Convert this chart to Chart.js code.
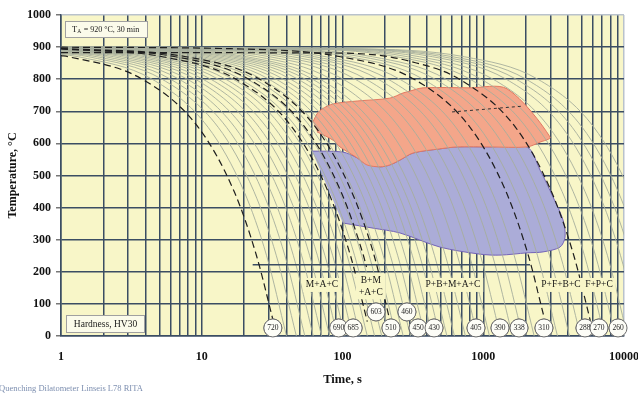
<!DOCTYPE html>
<html><head><meta charset="utf-8">
<script src="https://cdn.jsdelivr.net/npm/chart.js@4.4.1/dist/chart.umd.min.js"></script>
<style>html,body{margin:0;padding:0;background:#fff;overflow:hidden}canvas{display:block}</style>
</head><body>
<canvas id="c" width="638" height="394"></canvas>
<script>
// ---- data ----
const X_TICKS = [1,2,3,4,5,6,7,8,9,10,20,30,40,50,60,70,80,90,100,200,300,400,500,600,700,800,900,1000,2000,3000,4000,5000,6000,7000,8000,9000,10000];
const X_LABELED = [1,10,100,1000,10000];

// temperature levels at which the thin cooling curves were read
const LEVELS = [895, 870, 800, 650, 450, 250, 0];
// temperature of each thin curve at t = 1 s
const GRAY_T1 = [877.5,880.9,883.3,885.5,887.3,888.9,890.2,891.3,892.4,893.2,894,894.7,895.3,895.8,896.3,896.7,897,897.4,897.7,897.9,898.2,898.4,898.6,898.8,899,899.2,899.3,899.4,899.5,899.6,899.7,899.8,899.8,899.9,899.9,899.9,899.9,899.9,900,900];
// time (s) at which each thin curve crosses the LEVELS
const GRAY_TIMES = [
 [0.22,1.33,4.44,11.1,20,28.9,40],
 [0.26,1.57,5.22,13.1,23.5,33.9,47],
 [0.3,1.8,6,15,27,39,54],
 [0.34,2.07,6.89,17.2,31,44.8,62],
 [0.39,2.37,7.89,19.7,35.5,51.3,71],
 [0.45,2.7,9,22.5,40.5,58.5,81],
 [0.51,3.07,10.2,25.6,46,66.4,92],
 [0.58,3.47,11.6,28.9,52,75.1,104],
 [0.66,3.93,13.1,32.8,59,85.2,118],
 [0.74,4.43,14.8,37,66.5,96,133],
 [0.83,5,16.7,41.7,75,108,150],
 [0.94,5.63,18.8,47,84.5,122,169],
 [1.06,6.33,21.1,52.8,95,137,190],
 [1.19,7.13,23.8,59.5,107,155,214],
 [1.33,8,26.7,66.7,120,173,240],
 [1.5,9,30,75,135,195,270],
 [1.69,10.1,33.8,84.5,152,219,304],
 [1.9,11.4,38,95,171,247,342],
 [2.14,12.8,42.8,107,193,278,385],
 [2.42,14.5,48.3,121,218,314,435],
 [2.72,16.3,54.4,136,245,354,490],
 [3.07,18.4,61.3,153,276,399,552],
 [3.47,20.8,69.3,173,312,451,624],
 [4.15,24.9,82.9,208,374,539,747],
 [5.05,30.3,101,253,455,656,909],
 [6.15,36.9,123,308,554,799,1107],
 [7.37,44.1,147,368,663,957,1325],
 [8.97,53.7,179,448,807,1165,1613],
 [10.6,63.3,211,528,950,1372,1900],
 [12.8,76.6,255,639,1150,1661,2300],
 [18.7,112,374,936,1684,2431,3367],
 [22.8,136,455,1139,2049,2959,4098],
 [27.3,163,544,1363,2452,3541,4904],
 [40.4,242,806,2020,3633,5245,7265],
 [48.4,290,966,2419,4350,6281,8700],
 [58.8,352,1174,2940,5288,7636,10576],
 [72.8,436,1454,3641,6548,9455,13096],
 [85.8,514,1712,4288,7713,11138,15426],
 [101,605,2016,5050,9083,13115,18165],
 [122,733,2442,6116,11000,15884,22000]
];

// dashed cooling curves
const DASH_TIMES = [
 [1,1.13,3.78,9.45,17,24.5,32.5],
 [1,5.26,17.5,43.9,79,114,150],
 [1,6.5,21.6,54.2,97.5,141,148],
 [1,7.73,25.8,64.5,116,168,218],
 [1,16.1,96.6,322,806,1450,2094,2700],
 [1,60,150,300,677,1696,3050,4404,5900]
];
const DASH_TEMPS = [
 [873.5,870,800,650,450,250,40],
 [894.3,870,800,650,450,250,45],
 [895.4,870,800,650,450,250,215],
 [896.1,870,800,650,450,250,45],
 [899.7,895,870,800,650,450,250,60],
 [883,882,878,856,800,650,450,250,30]
];
const DOT_TIMES = [600,1900];
const DOT_TEMPS = [698,716];
const MS_TIMES = [23,2150];
const MS_TEMPS = [222,222];

// transformation regions
const ORANGE_T = [61.7,65.9,71.5,85.7,127,217,269,302,373,805,1476,2980,2532,2046,1117,650,493,317,256,217,185,149,127,96,85.7,65.9];
const ORANGE_V = [667,692,707,723,732,741,757,763,773,773,770,620,604,589,589,589,583,570,548,533,527,533,555,589,610,636];
const BLUE_T = [60.7,100.6,127,149,185,217,256,317,493,650,1117,2046,2532,3131,3690,3811,3511,2658,2046,1315,948,493,256,165,100.6];
const BLUE_V = [576,573,555,536,527,533,548,570,583,589,589,589,517,433,361,308,277,262,259,252,255,277,321,336,352];

// hardness circles
const HARD_T = [32,94,119,173,221,287,344,447,888,1315,1795,2700,5280,6640,9070];
const HARD_Y = [25,25,25,75,25,75,25,25,25,25,25,25,25,25,25];
const HARD_V = ['720','690','685','603','510','460','450','430','405','390','338','310','288','270','260'];

// phase labels
const PHASE_TEXT = [['M+A+C'],['B+M','+A+C'],['P+B+M+A+C'],['P+F+B+C'],['F+P+C']];
const PHASE_T = [71.5,159,609,3567,6640];
const PHASE_V = [159,155,159,159,159];

// ---- styles ----
const BG = '#f8f6c8';
const GRID = '#3b4d63';
const SERIF = '"Liberation Serif", "Times New Roman", serif';

const datasets = [];
datasets.push({data: ORANGE_T.map((t,i)=>({x:t,y:ORANGE_V[i]})), fill:'shape', backgroundColor:'#f4a68a', borderColor:'#e27a62', borderWidth:1, pointRadius:0, tension:0.3, order:10});
datasets.push({data: BLUE_T.map((t,i)=>({x:t,y:BLUE_V[i]})), fill:'shape', backgroundColor:'#abacd8', borderColor:'#7464b8', borderWidth:1, pointRadius:0, tension:0.3, order:11});
GRAY_TIMES.forEach((times,k)=>{
  const pts=[{x:1,y:GRAY_T1[k]}];
  times.forEach((t,i)=>{ if(t>1) pts.push({x:t,y:LEVELS[i]}); });
  datasets.push({data:pts, borderColor:'#a6ae9c', borderWidth:0.9, pointRadius:0, fill:false, cubicInterpolationMode:'monotone', order:5});
});
DASH_TIMES.forEach((times,k)=>{
  datasets.push({data: times.map((t,i)=>({x:t,y:DASH_TEMPS[k][i]})), borderColor:'#1e1e1e', borderWidth:1.2, borderDash:[7,4], pointRadius:0, fill:false, cubicInterpolationMode:'monotone', order:3});
});
datasets.push({data: DOT_TIMES.map((t,i)=>({x:t,y:DOT_TEMPS[i]})), borderColor:'#333', borderWidth:1, borderDash:[3,3], pointRadius:0, fill:false, order:3});
datasets.push({data: MS_TIMES.map((t,i)=>({x:t,y:MS_TEMPS[i]})), borderColor:GRID, borderWidth:1.5, pointRadius:0, fill:false, order:3});
const HARD_INDEX = datasets.length;
datasets.push({data: HARD_T.map((t,i)=>({x:t,y:HARD_Y[i]})), showLine:false, pointRadius:9, pointBackgroundColor:'#fdfdf7', pointBorderColor:'#6e6e6e', pointBorderWidth:1, order:0});

const bgPlugin = {
  id:'bg',
  beforeDraw(chart){
    const {ctx, chartArea:a} = chart;
    ctx.save();
    ctx.fillStyle='#fff'; ctx.fillRect(0,0,chart.width,chart.height);
    ctx.fillStyle=BG; ctx.fillRect(a.left,a.top,a.right-a.left,a.bottom-a.top);
    ctx.restore();
  }
};
const phasePlugin = {
  id:'phase',
  afterDatasetsDraw(chart){
    const {ctx, scales:{x,y}} = chart;
    ctx.save();
    ctx.font = '9.5px '+SERIF;
    ctx.textAlign='center'; ctx.textBaseline='middle';
    PHASE_TEXT.forEach((lines,i)=>{
      const px=x.getPixelForValue(PHASE_T[i]), py=y.getPixelForValue(PHASE_V[i]);
      const w=Math.max(...lines.map(l=>ctx.measureText(l).width))+6;
      const lh=12, h=lines.length*lh+2;
      ctx.fillStyle=BG; ctx.fillRect(px-w/2,py-h/2,w,h);
      ctx.fillStyle='#151515';
      lines.forEach((l,j)=>ctx.fillText(l,px,py-(lines.length-1)*lh/2+j*lh));
    });
    ctx.restore();
  }
};
const topPlugin = {
  id:'top',
  afterDraw(chart){
    const {ctx, chartArea:a} = chart;
    ctx.save();
    const meta = chart.getDatasetMeta(HARD_INDEX);
    ctx.textAlign='center'; ctx.textBaseline='middle';
    meta.data.forEach((el,i)=>{
      el.draw(ctx, {left:0,top:0,right:chart.width,bottom:chart.height});
      ctx.font='7.5px '+SERIF;
      ctx.fillStyle='#222';
      ctx.fillText(HARD_V[i], el.x, el.y+0.5);
    });
    // info boxes
    function box(x,y,w,h){ ctx.fillStyle='#fbfbea'; ctx.fillRect(x,y,w,h); ctx.strokeStyle='#a0a0a0'; ctx.lineWidth=1; ctx.strokeRect(x+0.5,y+0.5,w-1,h-1); }
    box(a.left+4, a.top+6, 83, 17);
    ctx.fillStyle='#1a1a1a'; ctx.textAlign='left';
    let tx=a.left+11, ty=a.top+14.5;
    ctx.font='8.5px '+SERIF; ctx.fillText('T',tx,ty); tx+=ctx.measureText('T').width;
    ctx.font='5.5px '+SERIF; ctx.fillText('A',tx,ty+2.5); tx+=ctx.measureText('A').width+0.5;
    ctx.font='8px '+SERIF; ctx.fillText(' = 920 °C, 30 min',tx,ty);
    box(a.left+5, a.bottom-21, 79, 18);
    ctx.fillStyle='#1a1a1a';
    ctx.textAlign='center'; ctx.font='9.5px '+SERIF;
    ctx.fillText('Hardness, HV30', a.left+44.5, a.bottom-12);
    // footer
    ctx.textAlign='left'; ctx.font='8.5px '+SERIF; ctx.fillStyle='#7d8fb0';
    ctx.fillText('Quenching Dilatometer Linseis L78 RITA', -1, 389);
    ctx.restore();
  }
};

new Chart(document.getElementById('c'), {
  type:'line',
  data:{datasets},
  options:{
    responsive:false, animation:false, devicePixelRatio:1, events:[],
    layout:{padding:{left:0,right:14,top:15,bottom:0}},
    plugins:{legend:{display:false}, tooltip:{enabled:false}},
    scales:{
      x:{
        type:'logarithmic', min:1, max:10000, z:1,
        afterBuildTicks(s){ s.ticks = X_TICKS.map(v=>({value:v, major:X_LABELED.includes(v)})); },
        afterFit(s){ s.height=58; s.paddingRight=0; s.paddingLeft=0; },
        ticks:{autoSkip:false, maxRotation:0, minRotation:0, padding:14, color:'#111',
          font:{family:SERIF, size:12, weight:'bold'},
          callback:(v)=> X_LABELED.includes(v) ? String(v) : ''},
        grid:{color:(c)=> c.tick && c.tick.value===10000 ? '#b9c2cc' : GRID, lineWidth:1.5, drawTicks:false},
        border:{display:true, color:GRID, width:1.5},
        title:{display:true, text:'Time, s', color:'#111', font:{family:SERIF, size:12.5, weight:'bold'}, padding:{top:0,bottom:6.5}}
      },
      y:{
        type:'linear', min:0, max:1000, z:1,
        afterFit(s){ s.width=61; },
        ticks:{stepSize:100, padding:5, color:'#111', font:{family:SERIF, size:12, weight:'bold'}, callback:(v)=>String(v)},
        grid:{color:(c)=> c.tick && c.tick.value===1000 ? '#b9c2cc' : GRID, lineWidth:1.5, tickLength:5, tickColor:'#777'},
        border:{display:true, color:GRID, width:1.5},
        title:{display:true, text:'Temperature, °C', color:'#111', font:{family:SERIF, size:12, weight:'bold'}, padding:{top:6,bottom:0}}
      }
    }
  },
  plugins:[bgPlugin, phasePlugin, topPlugin]
});
</script>
</body></html>
